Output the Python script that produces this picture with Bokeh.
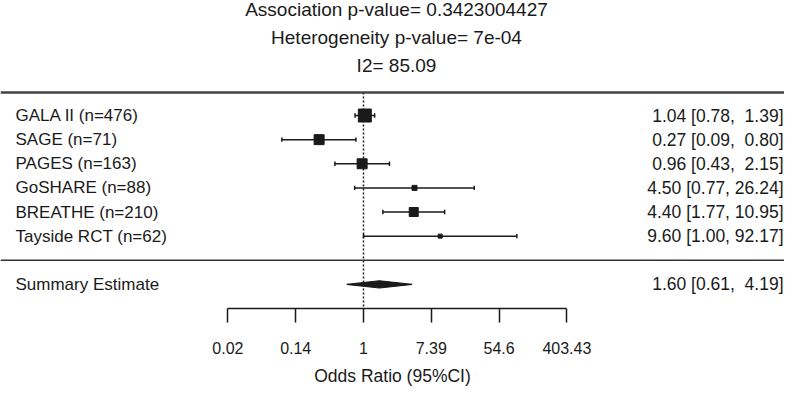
import numpy as np
from bokeh.plotting import figure
from bokeh.models import Range1d, FixedTicker, Span
from bokeh.core.properties import value
from bokeh.embed import file_html
from bokeh.resources import INLINE

# ---------------- data ----------------
studies = ["GALA II (n=476)", "SAGE (n=71)", "PAGES (n=163)",
           "GoSHARE (n=88)", "BREATHE (n=210)", "Tayside RCT (n=62)"]
odds_ratio = [1.04, 0.27, 0.96, 4.50, 4.40, 9.60]
ci_lower = [0.78, 0.09, 0.43, 0.77, 1.77, 1.00]
ci_upper = [1.39, 0.80, 2.15, 26.24, 10.95, 92.17]

summary_label = "Summary Estimate"
summary_or = 1.60
summary_lower = 0.61
summary_upper = 4.19

title_lines = ["Association p-value= 0.3423004427",
               "Heterogeneity p-value= 7e-04",
               "I2= 85.09"]
tick_log = [-4, -2, 0, 2, 4, 6]
tick_labels = ["0.02", "0.14", "1", "7.39", "54.6", "403.43"]
axis_title = "Odds Ratio (95%CI)"

# ---------------- styles ----------------
box_px = [13, 10, 10, 5, 9, 4]
FONT = value("Liberation Sans")
INK = "#1a1a1a"

rows = list(range(1, len(studies) + 1))
sep_row = len(studies) + 1
sum_row = len(studies) + 2
axis_row = len(studies) + 3
rule_row = 0.046
title_rows = [-3.395, -2.234, -1.073]

lx = np.log(odds_ratio)
llo = np.log(ci_lower)
lhi = np.log(ci_upper)

XR = Range1d(-10.708, 12.419)
YR = Range1d(axis_row, -3.768)

p = figure(width=784, height=391, output_backend="svg", toolbar_location=None,
           x_range=XR, y_range=YR, y_axis_location=None,
           min_border_left=0, min_border_right=0, min_border_top=0,
           min_border_bottom=83, outline_line_color=None,
           background_fill_color="white", border_fill_color="white")
p.grid.visible = False

ax = p.xaxis[0]
ax.ticker = FixedTicker(ticks=tick_log)
ax.major_label_overrides = {t: l for t, l in zip(tick_log, tick_labels)}
ax.bounds = (tick_log[0], tick_log[-1])
ax.major_tick_out = 14
ax.major_tick_in = 0
ax.minor_tick_line_color = None
ax.axis_line_width = 1.5
ax.major_tick_line_width = 1.5
ax.axis_line_color = INK
ax.major_tick_line_color = INK
ax.major_label_standoff = 19
ax.major_label_text_font = "Liberation Sans"
ax.major_label_text_font_size = "16px"
ax.major_label_text_color = INK
ax.axis_label = axis_title
ax.axis_label_standoff = 9
ax.axis_label_text_font = "Liberation Sans"
ax.axis_label_text_font_size = "17.5px"
ax.axis_label_text_font_style = "normal"
ax.axis_label_text_color = INK

# horizontal rules
p.add_layout(Span(location=rule_row, dimension="width", line_color="#444444", line_width=2.5))
p.add_layout(Span(location=sep_row, dimension="width", line_color="#333333", line_width=1.5))

# null line (OR = 1)
p.segment(x0=[np.log(1.0)], y0=[rule_row], x1=[np.log(1.0)], y1=[axis_row],
          line_color=INK, line_width=1.5, line_dash="2 2")

# CIs
p.segment(x0=llo, y0=rows, x1=lhi, y1=rows, line_color=INK, line_width=1.5)
caps_x = np.concatenate([llo, lhi])
caps_y = np.array(rows + rows, dtype=float)
p.segment(x0=caps_x, y0=caps_y - 0.09, x1=caps_x, y1=caps_y + 0.09,
          line_color=INK, line_width=1.5)

# point estimates
p.scatter(x=lx, y=rows, marker="square", size=box_px, fill_color=INK, line_color=INK)

# summary diamond
sx = [np.log(summary_lower), np.log(summary_or), np.log(summary_upper), np.log(summary_or)]
sy = [sum_row, sum_row - 0.15, sum_row, sum_row + 0.15]
p.patch(sx, sy, fill_color=INK, line_color=INK, line_width=1.2)

# left labels
p.text(x=[XR.start] * (len(studies) + 1), y=rows + [sum_row],
       text=studies + [summary_label], x_offset=15,
       text_baseline="middle", text_align="left",
       text_font=FONT, text_font_size="17px", text_color=INK)

# right labels
def fmt(e, lo, hi):
    s = f"{e:.2f} [{lo:.2f}, {hi:5.2f}]"
    return s.replace(" ", "\u00a0")

right_text = [fmt(e, lo, hi) for e, lo, hi in zip(odds_ratio, ci_lower, ci_upper)]
right_text.append(fmt(summary_or, summary_lower, summary_upper))
p.text(x=[XR.end] * (len(studies) + 1), y=rows + [sum_row],
       text=right_text, x_offset=-1,
       text_baseline="middle", text_align="right",
       text_font=FONT, text_font_size="17.5px", text_color=INK)

# title lines
p.text(x=[(XR.start + XR.end) / 2] * 3, y=title_rows, text=title_lines, x_offset=4,
       text_baseline="middle", text_align="center",
       text_font=FONT, text_font_size="19px", text_color=INK)

open("out.html", "w").write(file_html(p, INLINE))
